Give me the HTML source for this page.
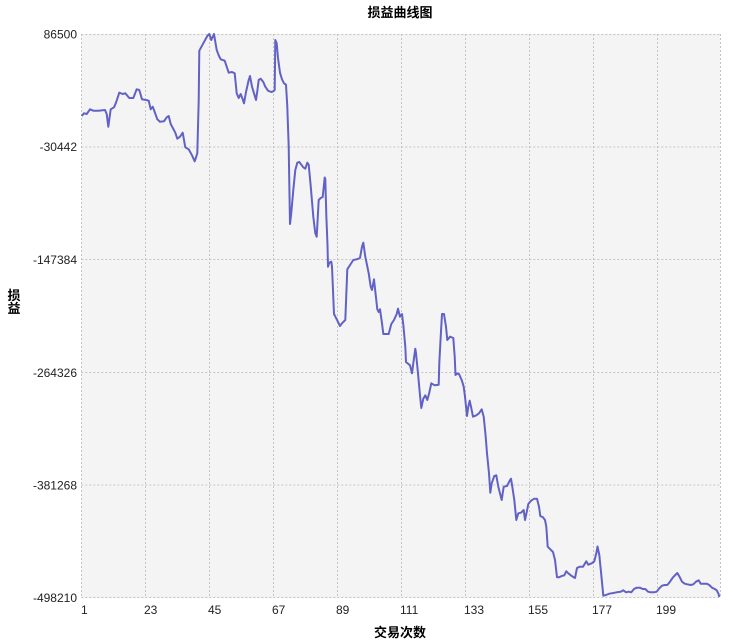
<!DOCTYPE html>
<html><head><meta charset="utf-8"><style>
html,body{margin:0;padding:0;background:#fff;}
svg{display:block;}
text{font-family:"Liberation Sans","Noto Sans CJK SC",sans-serif;}
</style></head><body>
<svg width="734" height="643" viewBox="0 0 734 643" xmlns="http://www.w3.org/2000/svg">
<rect x="0" y="0" width="734" height="643" fill="#fff"/>
<rect x="81.3" y="34" width="639" height="564" fill="#f4f4f4"/>
<g stroke="#c4c4c4" stroke-width="1" stroke-dasharray="2,2" fill="none">
<line x1="81.3" y1="34.5" x2="720.3" y2="34.5"/>
<line x1="81.3" y1="147" x2="720.3" y2="147"/>
<line x1="81.3" y1="259.5" x2="720.3" y2="259.5"/>
<line x1="81.3" y1="372.5" x2="720.3" y2="372.5"/>
<line x1="81.3" y1="485" x2="720.3" y2="485"/>
<line x1="81.3" y1="597.5" x2="720.3" y2="597.5"/>
<line x1="81.5" y1="34" x2="81.5" y2="598"/>
<line x1="145.5" y1="34" x2="145.5" y2="598"/>
<line x1="209.5" y1="34" x2="209.5" y2="598"/>
<line x1="273.5" y1="34" x2="273.5" y2="598"/>
<line x1="337.5" y1="34" x2="337.5" y2="598"/>
<line x1="401.5" y1="34" x2="401.5" y2="598"/>
<line x1="465.5" y1="34" x2="465.5" y2="598"/>
<line x1="529.5" y1="34" x2="529.5" y2="598"/>
<line x1="593.5" y1="34" x2="593.5" y2="598"/>
<line x1="657.5" y1="34" x2="657.5" y2="598"/>
<line x1="720.5" y1="34" x2="720.5" y2="598"/>
</g>
<polyline fill="none" stroke="#6262c6" stroke-width="2" stroke-linejoin="round" points="
81.7,116 84,113.3 86.7,114 90,109.3 93.3,110.7 98.3,110.7 105,110 106.7,114 108.3,126.7 110.7,109.3 114,107.3 116,102.7 119.3,92.7 122.7,94 125.3,93.3 129.3,98 133.3,98 136.7,89.3 139.3,90 142,99.3 146,100 148.7,100.7 150.7,109.3 152.7,106.7 154,110 157.3,119.3 160,121.7 164,121.3 166.7,117.3 168.7,116 170.7,124 175.3,132.7 177.3,138.7 180,136.7 182.7,132.7 185.3,147.3 188.7,149.3
192,155.3 194.7,161.3 197.3,153.3 198.7,100.7 199.3,50.7 203.3,43.3 207.3,36 209.3,34 211.3,40 214,34 216.7,50 218.7,55.3 220.7,59.3 224.7,60.7 226.7,66.7 228.7,72.7 232,72 234.7,73.3 236.7,93.3 238.7,98 240.7,94 242.7,99.3 244,103.3 246,92 248.7,80 250,76 252,86.7 254,93.3 256,100 257.3,91.3 258.7,80 260.7,78.7 263.3,82 265.3,86.7 268,90.7 271.3,92 273.3,91.3 274.7,90 275.3,40 276.7,43.3 278,58 280,72.7 282,79.3 284,83.3 286,84.7 287.3,106.7 288.7,146.7 289.3,183.3 290,224 291.3,212.7 293.3,190 295.3,170 297.3,162.7 299.3,162 301.3,164.7 303.3,167.3 305.3,168.7 307.3,162.7 308.7,164.7 310.7,186 313.3,216.7 315.3,233.3 316.7,236.7 318.7,200 320.7,198 322.7,197 324.7,177.5 325.3,179 326.3,215 327.5,245 328,266.7
329.3,262.7 331.3,261.7 332,266.7 334,314 336.7,319.3 340,326 342,323.3 345.3,320 347.3,269.3 350.7,264 353.3,260 356.7,259.3 360,258 362,246.7 363.3,242.7 365.3,256.7 368.7,273.3 370.7,286.7 372,290 374,279.3 375.3,291.3 377.3,309.3 378.7,312 380,309.3 382,323.3 383.3,334 388.7,334 391.3,324 394,320 396.7,314 398,308.7 400,316.7 402,314 403.3,324.7 405.3,346.7 406,362 410,365.3 412,373.3 414,358 415.3,348.7 416,353.3 418,373.3 420,395.3 421.3,408 423.3,398.7 425.3,395.3 427.3,400 429.3,392.7 431.3,383.3 434.7,385.3 438.7,384.7 439.3,363.3 440.7,336.7 442,314 444,314 446,326.7 447.3,340 450,336.7 453.3,338 454.7,356.7
455.5,375 457,373.5 459,374 461.7,380 463.7,386.7 465,396.7 467,416 468.3,406.7 469.7,400.7 471,406.7 473,416.7 476.3,415.3 479,413.3 481.7,409.3 483.7,416.7 485.7,436.7 487,453.3 489,473.3 490.3,492.7 491.7,483.3 494.3,476 496.3,475.3 498.3,486.7 501.7,500 503.7,486.7 507,486 509.7,480.7 511,478.7 512.3,486.7 514.3,500 516.3,520 518.3,513.3 521,512.7 523.7,510 525,520 527,510.7 528.3,504 531,500.7 534.3,498.7 537,498.7 539,506.7 540.3,516 543,517.3 545,520 546.3,526.7 547.7,546.7 550.3,549.3 553,552 555,560 557,577.3 559,577.3 561.7,576 564.3,575.3 566.3,571.3 568.3,573.3 571.7,576 575,578 577,568 579.7,566.7 583,566.7 586.3,561.3 588.3,564.7 591.7,563.3 594.3,561.3 596.3,553.3 597.5,546.5 599.3,555 601.3,575 603.3,595.7
606,595 609.3,593.7 613.3,593 616.7,592.3 620.7,591.7 623.3,590.3 626,592.3 628.7,591.7 631.3,592.3 634,589 636.7,587.7 640,587.7 642.7,589 645.3,589 648,591.7 650.7,592.3 654,592.3 656.7,591.7 659.3,588.3 662,585.7 664.7,585 667.3,585 670,581.7 672.7,577.7 675.3,575 677.3,573 679.3,576.3 682,581.7 684.7,583.7 687.3,584.3 690.7,585 693.3,584.3 696,581.7 698.7,580.3 700.7,583.7 703.3,583.7 706.7,583.7 709.3,585 712,587.7 714.7,589 716.7,590.3 718.7,594.3 719.3,597"/>
<g font-size="12" fill="#222" text-anchor="end">
<text x="77" y="38.5">86500</text>
<text x="77" y="151">-30442</text>
<text x="77" y="264">-147384</text>
<text x="77" y="377">-264326</text>
<text x="77" y="489.5">-381268</text>
<text x="77" y="602">-498210</text>
</g>
<g font-size="12" fill="#222">
<text x="81" y="614">1</text>
<text x="144" y="614">23</text>
<text x="208" y="614">45</text>
<text x="272" y="614">67</text>
<text x="336" y="614">89</text>
<text x="400" y="614">111</text>
<text x="464" y="614">133</text>
<text x="528" y="614">155</text>
<text x="592" y="614">177</text>
<text x="656" y="614">199</text>
</g>
<text x="400" y="17" font-size="13" font-weight="bold" text-anchor="middle" fill="#000">损益曲线图</text>
<text x="400" y="637" font-size="13" font-weight="bold" text-anchor="middle" fill="#000">交易次数</text>
<text x="14" y="300" font-size="13" font-weight="bold" text-anchor="middle" fill="#000">损</text>
<text x="14" y="313" font-size="13" font-weight="bold" text-anchor="middle" fill="#000">益</text>
</svg>
</body></html>
